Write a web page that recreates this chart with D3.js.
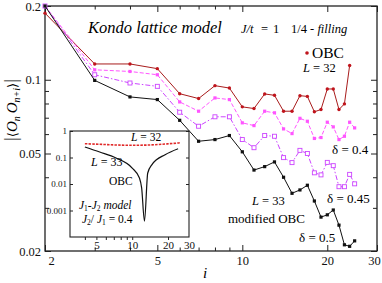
<!DOCTYPE html>
<html>
<head>
<meta charset="utf-8">
<script src="https://cdn.jsdelivr.net/npm/d3@7"></script>
<style>
  body { margin: 0; background: #fff; }
  svg text { font-family: "Liberation Serif", "Times New Roman", "DejaVu Serif", serif; }
</style>
</head>
<body>
<svg id="chart" width="382" height="283"></svg>
<script>
// MAIN PANEL DATA: |<O_n O_n+i>| against distance i
const sites = [2, 3, 4, 5, 6, 7, 8, 9, 10, 11, 12, 13, 14, 15, 16, 17, 18, 19, 20, 21, 22, 23, 24, 25];
const obcL32 = [0.187, 0.116, 0.116, 0.111, 0.0877, 0.0838, 0.0946, 0.0925, 0.0775, 0.0763, 0.0875, 0.0864,
  0.0744, 0.0744, 0.0861, 0.0855, 0.074, 0.0756, 0.0917, 0.0917, 0.0756, 0.0797, 0.1144];
const delta04 = [0.2, 0.1098, 0.1081, 0.1048, 0.0812, 0.0744, 0.0843, 0.083, 0.0667, 0.065, 0.0744, 0.0733,
  0.063, 0.0603, 0.0696, 0.0677, 0.0576, 0.0581, 0.0671, 0.0642, 0.057, 0.0588, 0.0671, 0.0636];
const delta045 = [0.2, 0.1048, 0.097, 0.094, 0.0737, 0.0646, 0.0706, 0.0706, 0.057, 0.0528, 0.0592, 0.0588,
  0.0481, 0.0459, 0.0515, 0.05, 0.0417, 0.0409, 0.046, 0.0446, 0.0366, 0.0366, 0.0411, 0.0376];
const delta05 = [0.2, 0.0994, 0.0851, 0.083, 0.0683, 0.0561, 0.057, 0.0592, 0.0508, 0.0428, 0.0442, 0.0462,
  0.04, 0.0344, 0.0355, 0.0371, 0.032, 0.0275, 0.0281, 0.0294, 0.0255, 0.0212, 0.0209, 0.022];

const xMajor = [2, 5, 10, 20, 30];
const xMinor = [3, 4, 6, 7, 8, 9];
const yMajor = [0.02, 0.05, 0.1, 0.2];
const yMinor = [0.03, 0.04, 0.06, 0.07, 0.08, 0.09];

// INSET DATA: J1-J2 model, J2/J1 = 0.4
const insetSitesL33 = [4.0, 5.33, 7.31, 10.0, 11.5, 12.0, 12.67, 13.5, 14.66, 18.9, 24.3];
const insetL33 = [0.249, 0.161, 0.096, 0.04, 0.0168, 0.0071, 0.0004, 0.026, 0.054, 0.128, 0.215];
const insetSitesL32 = [4.0, 5.33, 7.31, 10.0, 13.76, 18.9, 24.3, 25.6];
const insetL32 = [0.332, 0.315, 0.296, 0.289, 0.296, 0.323, 0.353, 0.362];

const insetXMajor = [5, 10, 20, 30];
const insetXMinor = [4, 6, 7, 8, 9];
const insetYMajor = [0.001, 0.01, 0.1, 1];

const svg = d3.select("#chart");

const x = d3.scaleLog().domain([2, 30]).range([45, 377]);
const y = d3.scaleLog().domain([0.02, 0.2]).range([251, 6]);

const allX = xMajor.concat(xMinor);
const allY = yMajor.concat(yMinor);
const fmt = (d) => (d >= 0.1 ? d3.format(".1f")(d) : String(d));

// AXES (ticks point inward)
const gx = svg.append("g").attr("transform", "translate(0,251)")
  .call(d3.axisBottom(x).tickValues(allX).tickSizeOuter(0).tickSizeInner(-6).tickPadding(5)
    .tickFormat((d) => (xMajor.includes(d) ? d : "")));
gx.selectAll(".tick line").attr("y2", (d) => (xMajor.includes(d) ? -6 : -3.5));

const gxt = svg.append("g").attr("transform", "translate(0,6)")
  .call(d3.axisTop(x).tickValues(allX).tickSizeOuter(0).tickSizeInner(-6).tickFormat(""));
gxt.selectAll(".tick line").attr("y2", (d) => (xMajor.includes(d) ? 6 : 3.5));

const gy = svg.append("g").attr("transform", "translate(45,0)")
  .call(d3.axisLeft(y).tickValues(allY).tickSizeOuter(0).tickSizeInner(-6).tickPadding(4)
    .tickFormat((d) => (yMajor.includes(d) ? fmt(d) : "")));
gy.selectAll(".tick line").attr("x2", (d) => (yMajor.includes(d) ? 6 : 4));

const gyr = svg.append("g").attr("transform", "translate(377,0)")
  .call(d3.axisRight(y).tickValues(allY).tickSizeOuter(0).tickSizeInner(-6).tickFormat(""));
gyr.selectAll(".tick line").attr("x2", (d) => (yMajor.includes(d) ? -6 : -4));

svg.selectAll(".domain").remove();
svg.selectAll(".tick line").attr("stroke", "#222").attr("stroke-width", 1);
svg.selectAll(".tick text").attr("font-family", "Liberation Serif").attr("font-size", 12.5).attr("fill", "#111");
gx.selectAll(".tick text").filter((d) => d === 2).attr("x", 6);
gx.selectAll(".tick text").filter((d) => d === 30).attr("x", -3);

svg.append("rect")
  .attr("x", 45).attr("y", 6).attr("width", 332).attr("height", 245)
  .attr("fill", "none").attr("stroke", "#222").attr("stroke-width", 1.3);

// SERIES
const series = [
  { values: obcL32, color: "#a81c1c", dash: null, marker: "circle", fill: "#c0141c" },
  { values: delta04, color: "#ff55ff", dash: "4,2", marker: "square", fill: "#ff55ff" },
  { values: delta045, color: "#cc44ff", dash: "5,2,1.5,2", marker: "open", fill: "#fff" },
  { values: delta05, color: "#111", dash: null, marker: "square", fill: "#111" },
];

const line = d3.line().x((d) => x(d.i)).y((d) => y(d.v));

series.forEach((s) => {
  const pts = s.values.map((v, k) => ({ i: sites[k], v: v }));
  svg.append("path")
    .datum(pts)
    .attr("d", line)
    .attr("fill", "none")
    .attr("stroke", s.color)
    .attr("stroke-width", 1)
    .attr("stroke-dasharray", s.dash);

  const g = svg.append("g");
  if (s.marker === "circle") {
    g.selectAll("circle").data(pts).join("circle")
      .attr("cx", (d) => x(d.i)).attr("cy", (d) => y(d.v)).attr("r", 1.7)
      .attr("fill", s.fill);
  } else if (s.marker === "square") {
    g.selectAll("rect").data(pts).join("rect")
      .attr("x", (d) => x(d.i) - 1.6).attr("y", (d) => y(d.v) - 1.6)
      .attr("width", 3.2).attr("height", 3.2).attr("fill", s.fill);
  } else {
    g.selectAll("rect").data(pts).join("rect")
      .attr("x", (d) => x(d.i) - 2).attr("y", (d) => y(d.v) - 2)
      .attr("width", 4).attr("height", 4)
      .attr("fill", "#fff").attr("stroke", s.color).attr("stroke-width", 0.9);
  }
});

// ANNOTATIONS
svg.append("text").attr("x", 88).attr("y", 33)
  .attr("font-size", 16.5).attr("font-style", "italic").text("Kondo lattice model");

const t1 = svg.append("text").attr("y", 33).attr("font-size", 12.5);
t1.append("tspan").attr("x", 241).attr("font-style", "italic").text("J/t");
t1.append("tspan").attr("x", 261).text("=");
t1.append("tspan").attr("x", 273).text("1");
t1.append("tspan").attr("x", 291).text("1/4 - ");
t1.append("tspan").attr("font-style", "italic").text("filling");

svg.append("circle").attr("cx", 307).attr("cy", 53).attr("r", 1.8).attr("fill", "#c0141c");
svg.append("text").attr("x", 312).attr("y", 58).attr("font-size", 15.5).text("OBC");

function labelL(xp, yp, n, size) {
  const t = svg.append("text").attr("x", xp).attr("y", yp).attr("font-size", size);
  t.append("tspan").attr("font-style", "italic").text("L");
  t.append("tspan").text(" = " + n);
  return t;
}
labelL(303, 72, 32, 12.5);
labelL(252, 205, 33, 12.5);
svg.append("text").attr("x", 228).attr("y", 223).attr("font-size", 13).text("modified OBC");

svg.append("text").attr("x", 332).attr("y", 154).attr("font-size", 13).text("δ = 0.4");
svg.append("text").attr("x", 327).attr("y", 203).attr("font-size", 13).text("δ = 0.45");
svg.append("text").attr("x", 299).attr("y", 242).attr("font-size", 13).text("δ = 0.5");

svg.append("text").attr("x", 203).attr("y", 278)
  .attr("font-size", 15).attr("font-style", "italic").text("i");

const yl = svg.append("text")
  .attr("transform", "translate(17,110) rotate(-90)")
  .attr("text-anchor", "middle").attr("font-size", 15);
yl.append("tspan").attr("font-size", 19).text("|");
yl.append("tspan").attr("font-family", "DejaVu Serif").attr("font-size", 13).text("⟨");
yl.append("tspan").attr("font-style", "italic").text("O");
yl.append("tspan").attr("font-style", "italic").attr("font-size", 10).attr("dy", 3).text("n");
yl.append("tspan").attr("font-style", "italic").attr("dy", -3).attr("dx", 3).text("O");
yl.append("tspan").attr("font-style", "italic").attr("font-size", 10).attr("dy", 3).text("n+i");
yl.append("tspan").attr("font-family", "DejaVu Serif").attr("font-size", 13).attr("dy", -3).text("⟩");
yl.append("tspan").attr("font-size", 19).text("|");

// INSET
const ix = d3.scaleLog().domain([3, 30]).range([70, 189]);
const iy = d3.scaleLog().domain([0.0001, 1]).range([237, 131]);

const inset = svg.append("g");
inset.append("rect").attr("x", 70).attr("y", 131).attr("width", 119).attr("height", 106)
  .attr("fill", "#fff");

const igx = inset.append("g").attr("transform", "translate(0,237)")
  .call(d3.axisBottom(ix).tickValues(insetXMajor.concat(insetXMinor)).tickSizeOuter(0)
    .tickSizeInner(3).tickPadding(1).tickFormat((d) => (insetXMajor.includes(d) ? d : "")));
igx.selectAll(".tick line").filter((d) => d === 30).remove();

const igy = inset.append("g").attr("transform", "translate(70,0)")
  .call(d3.axisLeft(iy).tickValues(insetYMajor).tickSizeOuter(0).tickSizeInner(-3).tickPadding(3)
    .tickFormat((d) => (d >= 1 ? "1" : String(d))));
inset.append("g").attr("transform", "translate(189,0)")
  .call(d3.axisRight(iy).tickValues(insetYMajor).tickSizeOuter(0).tickSizeInner(-3).tickFormat(""));

inset.selectAll(".domain").remove();
inset.selectAll(".tick line").attr("stroke", "#222");
inset.selectAll(".tick text").attr("font-family", "Liberation Serif").attr("fill", "#111");
igx.selectAll(".tick text").attr("font-size", 11);
igy.selectAll(".tick text").attr("font-size", 9);

inset.append("rect").attr("x", 70).attr("y", 131).attr("width", 119).attr("height", 106)
  .attr("fill", "none").attr("stroke", "#222").attr("stroke-width", 1.1);

const iline = d3.line().x((d) => ix(d.i)).y((d) => iy(d.v)).curve(d3.curveMonotoneX);

inset.append("path")
  .datum(insetL33.map((v, k) => ({ i: insetSitesL33[k], v: v })))
  .attr("d", iline).attr("fill", "none").attr("stroke", "#111").attr("stroke-width", 1.2);

inset.append("path")
  .datum(insetL32.map((v, k) => ({ i: insetSitesL32[k], v: v })))
  .attr("d", iline).attr("fill", "none").attr("stroke", "#e02828")
  .attr("stroke-width", 1.6).attr("stroke-dasharray", "2.5,1.2");

const il32 = inset.append("text").attr("x", 131).attr("y", 141).attr("font-size", 11.5);
il32.append("tspan").attr("font-style", "italic").text("L");
il32.append("tspan").text(" = 32");
const il33 = inset.append("text").attr("x", 91).attr("y", 166).attr("font-size", 12);
il33.append("tspan").attr("font-style", "italic").text("L");
il33.append("tspan").text(" = 33");
inset.append("text").attr("x", 109).attr("y", 185).attr("font-size", 11.5).text("OBC");

const im = inset.append("text").attr("x", 79).attr("y", 209).attr("font-size", 11.5);
im.append("tspan").attr("font-style", "italic").text("J");
im.append("tspan").attr("font-size", 7.5).attr("dy", 2).text("1");
im.append("tspan").attr("dy", -2).text("-");
im.append("tspan").attr("font-style", "italic").text("J");
im.append("tspan").attr("font-size", 7.5).attr("dy", 2).text("2");
im.append("tspan").attr("dy", -2).attr("font-style", "italic").text(" model");

const ir = inset.append("text").attr("x", 82).attr("y", 223).attr("font-size", 11.5);
ir.append("tspan").attr("font-style", "italic").text("J");
ir.append("tspan").attr("font-size", 7.5).attr("dy", 2).text("2");
ir.append("tspan").attr("dy", -2).text("/ ");
ir.append("tspan").attr("font-style", "italic").text("J");
ir.append("tspan").attr("font-size", 7.5).attr("dy", 2).text("1");
ir.append("tspan").attr("dy", -2).text(" = 0.4");
</script>
</body>
</html>
